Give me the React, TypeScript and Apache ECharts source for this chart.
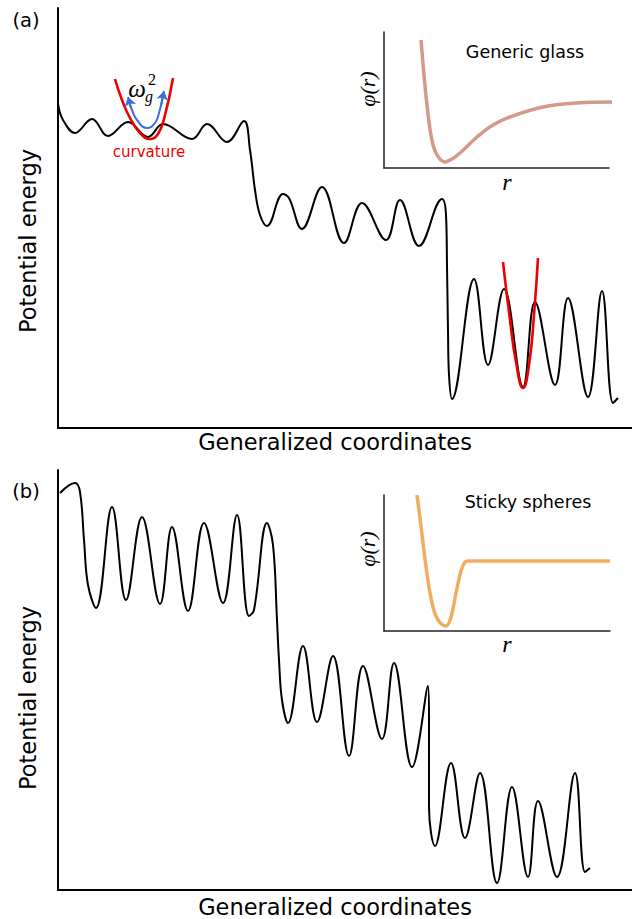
import React, { useEffect, useRef } from "react";
import * as echarts from "echarts";

// Panel (a): rugged landscape (generalized coordinate, potential energy)
const landscapeA: [number, number][] = [
  [0, 324], [5, 308], [17, 295], [34, 309], [50, 292], [70, 306], [90, 291],
  [105, 304], [134, 289], [149, 304], [169, 286], [186, 307], [192, 278],
  [197, 238], [202, 213], [209, 202], [225, 234], [231, 230], [244, 199],
  [264, 241], [286, 185], [304, 225], [328, 188], [342, 228], [361, 182],
  [384, 229], [388, 213], [389, 163], [390, 98], [391, 53], [394, 29],
  [416, 149], [430, 63], [446, 139], [465, 41], [477, 126], [497, 43],
  [510, 130], [530, 31], [544, 137], [555, 25], [560, 30],
];
const curvatureLeft: [number, number][] = [
  [57, 349], [64, 328], [72, 310], [82, 295], [92, 289], [100, 294], [107, 313], [115, 350],
];
const curvatureRight: [number, number][] = [
  [445, 166], [452, 108], [458, 66], [465, 40], [471, 63], [476, 113], [480, 170],
];
const omegaArc: [number, number][] = [
  [71, 327], [74, 318], [79, 308], [89, 300], [97, 305], [101, 315], [105, 332],
];
const omegaHeads: [number, number][][] = [
  [[73, 320], [70, 331]],
  [[103, 322], [106, 337]],
];

// Panel (b): sticky-sphere landscape
const landscapeB: [number, number][] = [
  [2, 397], [17, 407], [22, 398], [26, 350], [30, 305], [38, 282], [54, 383],
  [68, 290], [84, 373], [102, 286], [114, 363], [130, 279], [146, 367],
  [165, 287], [179, 375], [191, 274], [196, 280], [209, 367], [215, 345],
  [219, 270], [221, 230], [224, 190], [230, 167], [245, 244], [259, 168],
  [275, 234], [291, 134], [305, 224], [324, 151], [336, 227], [354, 123],
  [370, 204], [371, 170], [371, 110], [371, 83], [377, 44], [393, 127],
  [407, 52], [422, 117], [439, 7], [454, 103], [470, 13], [480, 89],
  [499, 13], [517, 117], [527, 18], [532, 22],
];

// Insets: pair potentials phi(r)
const phiGlass: [number, number][] = [
  [37, 128], [40, 93], [43, 63], [47, 33], [52, 15], [61, 6], [68, 9],
  [76, 15], [93, 31], [109, 43], [126, 51], [159, 61], [193, 65], [234, 66],
];
const phiSticky: [number, number][] = [
  [33, 136], [37, 105], [41, 72], [45, 44], [49, 24], [54, 11], [62, 5], [67, 14],
  [72, 38], [77, 60], [81, 69], [84, 70], [226, 70],
];

const FONT = "DejaVu Sans";
const SERIF = "Liberation Serif";

function xAx(gridIndex: number, max: number, w: number, color: string) {
  return {
    type: "value", gridIndex, min: 0, max,
    axisLine: { show: true, onZero: false, lineStyle: { color, width: w } },
    axisTick: { show: false }, axisLabel: { show: false }, splitLine: { show: false },
  };
}
function yAx(gridIndex: number, max: number, w: number, color: string) {
  return {
    type: "value", gridIndex, min: 0, max,
    axisLine: { show: true, onZero: false, lineStyle: { color, width: w } },
    axisTick: { show: false }, axisLabel: { show: false }, splitLine: { show: false },
  };
}

function line(data: [number, number][], idx: number, color: string, width: number, smooth: number, z = 2) {
  return {
    type: "line", data, xAxisIndex: idx, yAxisIndex: idx, showSymbol: false, symbol: "none",
    smooth, clip: false, z, lineStyle: { color, width }, silent: true,
  };
}

function txt(text: string, x: number, y: number, size: number, extra: any = {}) {
  return {
    type: "text", x, y, rotation: extra.rotation || 0, z: 10,
    style: {
      text, fontSize: size, fontFamily: extra.font || FONT, fill: extra.color || "#000",
      fontStyle: extra.italic ? "italic" : "normal",
      align: "center", verticalAlign: "middle",
    },
  };
}

export default function App() {
  const ref = useRef<HTMLDivElement>(null);
  useEffect(() => {
    document.body.style.margin = "0";
    const chart = echarts.init(ref.current!, null, { renderer: "svg" });
    const option: any = {
      animation: false,
      backgroundColor: "#fff",
      grid: [
        { left: 58, top: 8, width: 574, height: 420 },
        { left: 58, top: 470, width: 574, height: 420 },
        { left: 384, top: 32, width: 225, height: 136 },
        { left: 384, top: 495, width: 226, height: 136 },
      ],
      xAxis: [
        xAx(0, 574, 2, "#000"), xAx(1, 574, 2, "#000"),
        xAx(2, 225, 1.5, "#222"), xAx(3, 226, 1.5, "#222"),
      ],
      yAxis: [
        yAx(0, 420, 2, "#000"), yAx(1, 420, 2, "#000"),
        yAx(2, 136, 1.5, "#222"), yAx(3, 136, 1.5, "#222"),
      ],
      series: [
        line(landscapeA, 0, "#000", 2, 0.4),
        line(curvatureLeft, 0, "#ee0000", 2.6, 0.5, 3),
        line(curvatureRight, 0, "#ee0000", 2.6, 0.5, 3),
        line(omegaArc, 0, "#3a6fdc", 2, 0.5, 4),
        {
          type: "lines", coordinateSystem: "cartesian2d", xAxisIndex: 0, yAxisIndex: 0,
          symbol: ["none", "arrow"], symbolSize: 9, z: 4, silent: true,
          lineStyle: { color: "#3a6fdc", width: 2, opacity: 1 },
          data: omegaHeads.map((c) => ({ coords: c })),
        },
        line(landscapeB, 1, "#000", 2, 0.4),
        line(phiGlass, 2, "#d39a8c", 3.5, 0.4),
        line(phiSticky, 3, "#f0ad62", 3.5, 0.4),
      ],
      graphic: [
        txt("(a)", 26, 20, 19.5),
        txt("(b)", 26, 491, 19.5),
        txt("Potential energy", 28, 241, 22.5, { rotation: Math.PI / 2 }),
        txt("Potential energy", 28, 698, 22.5, { rotation: Math.PI / 2 }),
        txt("Generalized coordinates", 335, 442, 22.5),
        txt("Generalized coordinates", 335, 907, 22.5),
        txt("Generic glass", 525, 52, 17.5),
        txt("Sticky spheres", 528, 502, 17.5),
        txt("φ(r)", 367, 89, 22, { rotation: Math.PI / 2, font: SERIF, italic: true }),
        txt("φ(r)", 367, 549, 22, { rotation: Math.PI / 2, font: SERIF, italic: true }),
        txt("r", 507, 182, 24, { font: SERIF, italic: true }),
        txt("r", 507, 644, 24, { font: SERIF, italic: true }),
        txt("curvature", 149, 152, 15, { color: "#ee0000" }),
        txt("ω", 137, 88, 25, { font: SERIF, italic: true }),
        txt("2", 152, 79, 16, { font: SERIF }),
        txt("g", 149, 96, 16, { font: SERIF, italic: true }),
      ],
    };
    chart.setOption(option);
    return () => chart.dispose();
  }, []);
  return <div ref={ref} style={{ width: 632, height: 919 }} />;
}
